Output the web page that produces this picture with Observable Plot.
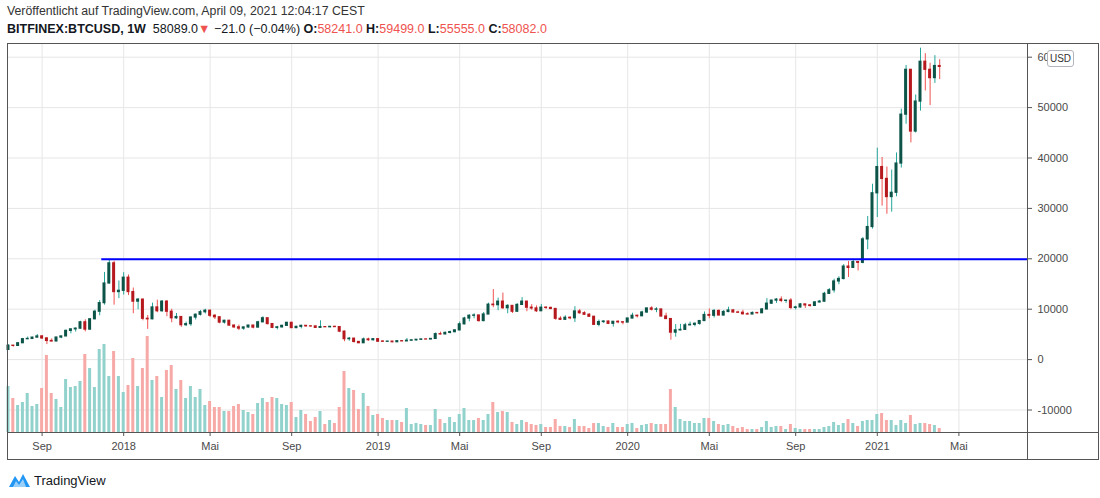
<!DOCTYPE html>
<html><head><meta charset="utf-8">
<script src="https://cdn.jsdelivr.net/npm/d3@7"></script>
<script src="https://cdn.jsdelivr.net/npm/@observablehq/plot@0.6"></script>
<style>
html,body{margin:0;padding:0;background:#fff;}
body{width:1100px;height:498px;position:relative;overflow:hidden;font-family:"Liberation Sans",Arial,sans-serif;}
#h1{position:absolute;left:7px;top:4px;font-size:12.3px;color:#333;white-space:nowrap;}
#h2{position:absolute;left:7px;top:22px;font-size:12.5px;color:#131722;white-space:nowrap;}
#h2 .r{color:#ef5350;}
#chart{position:absolute;left:0;top:43px;}
.ln{position:absolute;background:#555;}
#usd{position:absolute;left:1047px;top:50px;width:25px;height:15px;border:1px solid #b2b5be;border-radius:3px;background:#fff;font-size:10px;line-height:15px;text-align:center;color:#333;}
#foot{position:absolute;left:8px;top:471px;display:flex;align-items:center;font-size:13px;color:#131722;}
</style></head><body>
<div id="h1">Veröffentlicht auf TradingView.com, April 09, 2021 12:04:17 CEST</div>
<div id="h2"><b>BITFINEX:BTCUSD, 1W</b>&nbsp; 58089.0<span class="r">▼</span> −21.0 (−0.04%) <b>O:</b><span class="r">58241.0</span> <b>H:</b><span class="r">59499.0</span> <b>L:</b><span class="r">55555.0</span> <b>C:</b><span class="r">58082.0</span></div>
<div id="chart"></div>
<div class="ln" style="left:7px;top:43px;width:1092px;height:1px;"></div>
<div class="ln" style="left:7px;top:459px;width:1092px;height:1px;"></div>
<div class="ln" style="left:7px;top:43px;width:1px;height:417px;"></div>
<div class="ln" style="left:1098px;top:43px;width:1px;height:417px;"></div>
<div class="ln" style="left:1027px;top:43px;width:1px;height:417px;"></div>
<div class="ln" style="left:7px;top:432px;width:1092px;height:1px;"></div>
<div id="usd">USD</div>
<div id="foot"><svg width="24" height="18" viewBox="0 0 24 18"><path d="M1 16 L7 5 L11 11 L15 3 L22 16 Z" fill="#2196f3"/><path d="M5 16 L8 10 L11 14 L15 8 L18 16 Z" fill="#fff" opacity="0.55"/></svg><span style="margin-left:2px">TradingView</span></div>
<script>
// ---- data (weekly candles, BITFINEX:BTCUSD) ----
const firstWeek = "2017-07-17";
const open = [1920,2760,2720,3250,4050,4100,4360,4600,4200,3700,3600,4380,4600,5700,6000,6140,7400,5950,8000,9500,11200,15100,19100,13400,13650,16250,13400,11500,11900,8100,8000,10350,9600,11500,9500,8200,8450,6830,7030,8350,8900,9400,9700,8700,8400,7350,7700,6750,6400,6150,6380,6750,6350,7400,8200,7050,6300,6400,6700,7300,6250,6500,6700,6600,6580,6300,6450,6420,6500,6450,5550,4050,4150,3500,3250,4000,3850,4050,3580,3540,3570,3450,3650,3620,3750,3820,3930,4000,3990,4100,5050,5000,5300,5450,5800,7000,8150,8700,8750,7650,8950,10900,10800,11500,10200,10650,9500,10850,11500,10300,10150,9600,10300,10250,10050,8100,7900,8300,8200,9550,9200,8900,8500,6900,7450,7550,7100,7500,7400,7350,8150,8700,8600,9350,10150,9900,9950,8550,8050,5350,5800,5900,6800,6900,7100,7650,8850,8700,9650,8750,9450,9750,9350,9300,9000,8950,9250,9200,9950,11100,11700,11900,11650,11700,10250,10350,10950,10750,10650,11350,11500,13050,13750,15500,16000,18450,18200,19350,19200,23850,26300,33000,38200,35850,32250,33100,38900,48600,57500,45250,51200,59100,57500,55850,58241];
const high = [2920,2810,3300,4200,4480,4450,4980,4750,4400,4100,4400,4620,5850,6050,6300,7600,7900,8100,9800,11700,17300,19890,19500,15600,17250,16800,14200,12100,12000,8750,11200,11800,11700,11700,10000,9150,8500,7450,8450,9050,9750,10000,9800,8900,8500,7800,7800,6850,6850,6500,6800,6780,7600,8500,8250,7150,6600,6800,7350,7400,6600,6800,6750,6650,6700,7700,6550,6550,6600,6500,5650,4400,4250,3600,4300,4250,4100,4150,3750,3650,3600,3700,3720,4200,3900,3950,4050,4100,4150,5300,5450,5450,5650,5900,7450,8400,8900,9100,8800,9350,11200,13900,12200,13200,10900,10700,11100,12300,11550,10900,10650,10950,10500,10400,10100,8500,8700,8450,10500,9950,9500,9100,8500,7850,7700,7650,7550,7700,7550,8200,9200,8800,9600,10200,10500,10300,9950,9200,8150,6950,7000,7200,7450,7300,7700,9450,10050,9950,9850,9750,10400,9950,9600,9800,9300,9450,9300,10150,12100,11800,12100,12450,11700,12100,10600,11100,10950,10950,11500,11750,13350,14100,15950,16450,18850,19450,19900,19450,24250,28400,34800,41950,40100,38200,37600,41000,49700,58350,57500,52500,61800,60700,58800,60300,59499];
const low = [1830,2470,2620,3200,3950,3980,4320,4000,2980,3500,3560,4150,4560,5120,5450,6050,5500,5850,7900,8700,10800,15000,10800,12100,12800,12700,9100,9900,7700,6000,7900,9300,9400,8500,7300,8000,6400,6550,6600,7850,8650,9050,8350,7950,7100,7050,6650,6150,5750,5800,6250,6100,6350,7350,6900,6150,5900,6250,6650,6150,6150,6100,6450,6450,6200,6300,6400,6300,6380,5350,3550,3650,3300,3200,3250,3650,3700,3500,3500,3480,3350,3380,3550,3600,3700,3700,3850,3950,3950,4100,4900,4950,5100,5300,5700,6900,7500,8100,7450,7500,8950,10300,9700,9950,9100,9150,9400,10850,9500,9800,9350,9600,9950,9900,7800,7750,7800,7900,7350,9000,8750,8400,6800,6500,7150,6950,6450,7100,6900,7350,8100,8250,8550,9150,9650,9300,8450,8000,3850,4450,5700,5850,6750,6500,6800,7650,8100,8250,8700,8650,9300,9250,9250,8850,8900,8950,9050,9150,9900,10950,11150,11300,11150,9900,9850,10250,10150,10400,10550,11200,11400,12950,13200,14850,15800,16300,18100,17600,19000,21800,25900,28200,30450,28850,29250,32300,38000,46700,43000,44950,49300,53300,50400,54800,55555];
const close = [2760,2720,3250,4050,4100,4360,4600,4200,3700,3600,4380,4600,5700,6000,6140,7400,5950,8000,9500,11200,15100,19100,13400,13650,16250,13400,11500,11900,8100,8000,10350,9600,11500,9500,8200,8450,6830,7030,8350,8900,9400,9700,8700,8400,7350,7700,6750,6400,6150,6380,6750,6350,7400,8200,7050,6300,6400,6700,7300,6250,6500,6700,6600,6580,6300,6450,6420,6500,6450,5550,4050,4150,3500,3250,4000,3850,4050,3550,3540,3570,3450,3650,3620,3750,3820,3930,4000,3990,4100,5050,5000,5300,5450,5800,7000,8150,8700,8750,7650,8950,10900,10800,11500,10200,10650,9500,10850,11500,10300,10150,9600,10300,10250,10050,8100,7900,8300,8200,9550,9200,8900,8500,6900,7450,7550,7100,7500,7400,7350,8150,8700,8600,9350,10150,9900,9950,8550,8050,5350,5800,5900,6800,6900,7100,7650,8850,8700,9650,8750,9450,9750,9350,9300,9000,8950,9250,9200,9950,11100,11700,11900,11650,11700,10250,10350,10950,10750,10650,11350,11500,13050,13750,15500,16000,18450,18200,19350,19200,23850,26300,33000,38200,35850,32250,33100,38900,48600,57500,45250,51200,59100,57500,55850,58250,58082];
// weekly volume (thousand BTC, relative)
const volume = [46,34,27,30,39,26,28,44,77,39,33,25,53,45,46,51,78,64,45,83,88,56,81,56,40,47,74,46,64,96,52,56,35,62,67,43,52,34,46,35,43,27,31,25,25,21,21,26,28,22,20,18,29,34,30,35,34,28,27,30,15,22,18,11,15,21,8,12,9,25,61,44,42,23,39,26,17,18,14,12,12,12,10,24,8,9,8,7,7,23,13,9,15,10,18,24,12,12,14,12,18,30,20,21,20,10,8,12,10,8,7,8,5,5,13,6,6,5,13,6,6,4,9,9,6,5,9,5,5,8,9,4,7,8,9,8,8,8,43,25,13,11,11,9,9,14,14,11,8,7,8,6,4,5,3,3,3,5,11,5,6,6,3,8,4,3,3,3,3,3,5,6,10,7,9,13,9,6,11,12,12,18,19,12,12,7,12,9,17,8,9,9,8,7,4];
const resistanceLevel = 19891;
const resistanceStart = "2017-11-30";
const yTicks = [-10000,0,10000,20000,30000,40000,50000,60000];
const xTickDates = ["2017-09-04","2018-01-01","2018-05-07","2018-09-03","2019-01-07","2019-05-06","2019-09-02","2020-01-06","2020-05-04","2020-09-07","2021-01-04","2021-05-03"];
const xTickLabels = ["Sep","2018","Mai","Sep","2019","Mai","Sep","2020","Mai","Sep","2021","Mai"];

// ---- build ----
const start = new Date(firstWeek + "T00:00Z");
const rows = close.map((c, i) => ({
  date: d3.utcWeek.offset(start, i),
  o: open[i], h: high[i], l: low[i], c, v: volume[i],
  up: c >= open[i]
}));
const tickDates = xTickDates.map(s => new Date(s + "T00:00Z"));
const labelMap = new Map(tickDates.map((d, i) => [+d, xTickLabels[i]]));

const W = 1100, H = 417, mL = 7, mR = 73, mT = 0, mB = 28;
const pxPerWeek = 4.8, msWeek = 7 * 864e5;
const msPerPx = msWeek / pxPerWeek;
const t0 = +start - 1 * msPerPx;
const t1 = t0 + (W - mL - mR) * msPerPx;
const yDom = [-14464, 62718];
const pricePerPx = (yDom[1] - yDom[0]) / (H - mT - mB);
const volY = d3.scaleLinear([0, 100], [yDom[0], yDom[0] + 100 * pricePerPx]);
const half = d => [new Date(+d - msWeek / 2), new Date(+d + msWeek / 2)];

const upBody = "#0c5447", downBody = "#b5181d", upWick = "#26a69a", downWick = "#ef5350";
const upVol = "#92d2cc", downVol = "#f7a9a7";

const chart = Plot.plot({
  width: W, height: H, marginLeft: mL, marginRight: mR, marginTop: mT, marginBottom: mB,
  x: {type: "utc", domain: [new Date(t0), new Date(t1)]},
  y: {domain: yDom},
  style: {fontFamily: "'Liberation Sans', Arial, sans-serif", fontSize: "11px", color: "#4a4a4a", background: "transparent", overflow: "visible"},
  marks: [
    Plot.gridX(tickDates, {stroke: "#e6e6e6", strokeOpacity: 1}),
    Plot.gridY(yTicks, {stroke: "#e6e6e6", strokeOpacity: 1}),
    Plot.rect(rows, {
      x1: d => half(d.date)[0], x2: d => half(d.date)[1],
      y1: () => volY(0), y2: d => volY(d.v),
      fill: d => d.up ? upVol : downVol,
      insetLeft: 0.9, insetRight: 0.9
    }),
    Plot.ruleX(rows, {x: "date", y1: "l", y2: "h", stroke: d => d.up ? upWick : downWick, strokeWidth: 1}),
    Plot.rect(rows, {
      x1: d => half(d.date)[0], x2: d => half(d.date)[1],
      y1: d => Math.min(d.o, d.c), y2: d => Math.max(d.o, d.c),
      fill: d => d.up ? upBody : downBody,
      insetLeft: 0.9, insetRight: 0.9, insetTop: -0.6, insetBottom: -0.6
    }),
    Plot.ruleY([resistanceLevel], {x1: new Date(resistanceStart + "T00:00Z"), x2: new Date(t1), stroke: "#0000ff", strokeWidth: 2}),
    Plot.axisY(yTicks, {anchor: "right", tickSize: 4, tickPadding: 6, stroke: "#555", tickFormat: d => d < 0 ? "-" + Math.abs(d) : String(d)}),
    Plot.axisX(tickDates, {anchor: "bottom", tickSize: 4, tickPadding: 6, stroke: "#555", tickFormat: d => labelMap.get(+d)})
  ]
});
document.getElementById("chart").appendChild(chart);
</script>
</body></html>
